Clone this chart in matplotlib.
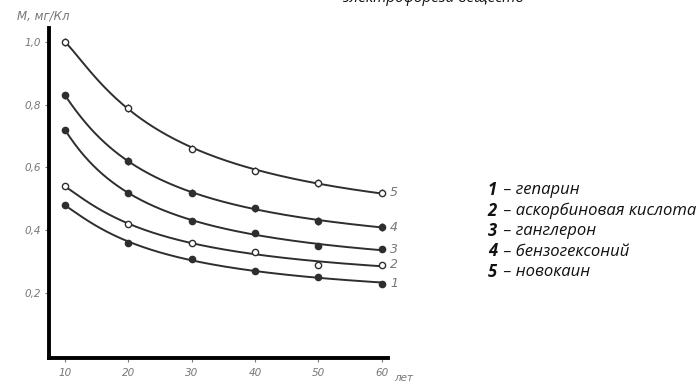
import numpy as np
import matplotlib
matplotlib.use("Agg")
import matplotlib.pyplot as plt

ages = [10, 20, 30, 40, 50, 60]
s1 = [0.48, 0.36, 0.31, 0.27, 0.25, 0.23]   # гепарин
s2 = [0.54, 0.42, 0.36, 0.33, 0.29, 0.29]   # аскорбиновая кислота
s3 = [0.72, 0.52, 0.43, 0.39, 0.35, 0.34]   # ганглерон
s4 = [0.83, 0.62, 0.52, 0.47, 0.43, 0.41]   # бензогексоний
s5 = [1.00, 0.79, 0.66, 0.59, 0.55, 0.52]   # новокаин
curve_ids = ["1", "2", "3", "4", "5"]
legend_names = ["гепарин", "аскорбиновая кислота", "ганглерон", "бензогексоний", "новокаин"]
yticks = [0.2, 0.4, 0.6, 0.8, 1.0]
ytick_labels = ["0,2", "0,4", "0,6", "0,8", "1,0"]

series = [s1, s2, s3, s4, s5]
filled = [True, False, True, True, False]
with_bar = [False, False, False, True, True]

fig = plt.figure(figsize=(7, 3.83), dpi=100)
ax = fig.add_axes([0.07, 0.0653, 0.484, 0.862])
ax.set_xlim(7.48, 60.95)
ax.set_ylim(-0.007, 1.045)

line_col = "#2e2e2e"
gray = "#777777"
x = np.array(ages, dtype=float)
xf = np.linspace(10, 60, 200)
for s, cid, f, b in zip(series, curve_ids, filled, with_bar):
    y = np.array(s)
    c = np.polyfit(1 / x, y, 2)
    ax.plot(xf, np.polyval(c, 1 / xf), color=line_col, lw=1.4, zorder=2)
    if b:
        ax.errorbar(x, y, yerr=0.012, fmt="none", ecolor=line_col, elinewidth=1.0, capsize=0, zorder=3)
    ax.plot(x, y, "o", ms=4.5, mec=line_col, mew=1.0,
            mfc=line_col if f else "white", zorder=4)
    ax.text(61.3, y[-1], cid, color=gray, fontsize=9, style="italic", va="center", ha="left")

for side in ["top", "right"]:
    ax.spines[side].set_visible(False)
for side in ["left", "bottom"]:
    ax.spines[side].set_linewidth(2.8)
    ax.spines[side].set_color("black")

ax.set_xticks(ages)
ax.set_xticklabels([str(a) for a in ages])
ax.set_yticks(yticks)
ax.set_yticklabels(ytick_labels)
ax.tick_params(axis="both", colors=gray, labelsize=7.5, length=3, width=0.8, direction="out")
for lab in ax.get_xticklabels() + ax.get_yticklabels():
    lab.set_style("italic")
    lab.set_color(gray)
ax.tick_params(axis="x", pad=4)
ax.tick_params(axis="y", pad=3)

fig.text(0.024, 0.957, "М, мг/Кл", color=gray, fontsize=8.5, style="italic", ha="left", va="center")
fig.text(0.563, 0.013, "лет", color=gray, fontsize=7.5, style="italic", ha="left", va="center")

fig.text(0.49, 1.003, "электрофореза веществ", fontsize=11, style="italic", color="#111111",
         family="Open Sans", ha="left", va="center")

y0 = 190
for i, (cid, name) in enumerate(zip(curve_ids, legend_names)):
    yp = 1 - (y0 + i * 20.5) / 383
    fig.text(0.697, yp, cid, fontsize=12, style="italic", weight="bold", color="#111111",
             family="Open Sans", ha="left", va="center")
    fig.text(0.713, yp, " – " + name, fontsize=12, style="italic", color="#111111",
             family="Open Sans", ha="left", va="center")

fig.savefig("out.png", dpi=100)
